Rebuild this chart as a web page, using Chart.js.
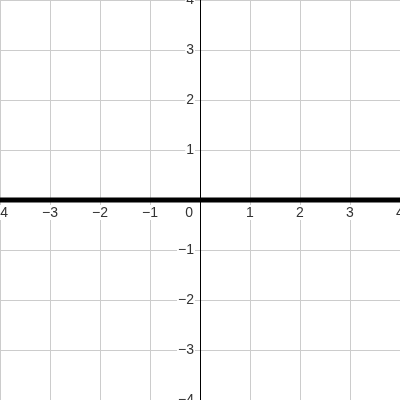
<!DOCTYPE html>
<html>
<head>
<meta charset="utf-8">
<script src="https://cdn.jsdelivr.net/npm/chart.js@4"></script>
<style>
  html, body { margin: 0; padding: 0; background: #fff; }
  #wrap { width: 400px; height: 400px; }
</style>
</head>
<body>
<div id="wrap"><canvas id="graph"></canvas></div>
<script>
// axis range and tick labels
var xTicks = [-4, -3, -2, -1, 1, 2, 3, 4];
var yTicks = [-4, -3, -2, -1, 1, 2, 3, 4];
// the plotted line y = 0
var lineX = [-4, 4];
var lineY = [0, 0];

function fmt(v) {
  return v < 0 ? "\u2212" + Math.abs(v) : String(v);
}

// draws the axes and the tick labels (white boxes behind, like the reference)
var axisLabels = {
  id: "axisLabels",
  afterDatasetsDraw: function (chart) {
    var c = chart.ctx;
    var xs = chart.scales.x, ys = chart.scales.y;
    var x0 = xs.getPixelForValue(0), y0 = ys.getPixelForValue(0);
    c.save();
    c.font = "14px 'Liberation Sans', Arial, sans-serif";
    c.textBaseline = "middle";

    xTicks.forEach(function (v) {
      var t = fmt(v), px = xs.getPixelForValue(v), w = c.measureText(t).width;
      c.fillStyle = "#fff";
      c.fillRect(px - w / 2 - 1, y0 + 5, w + 2, 15);
      c.fillStyle = "#333";
      c.textAlign = "center";
      c.fillText(t, px, y0 + 13);
    });
    yTicks.forEach(function (v) {
      var t = fmt(v), py = ys.getPixelForValue(v), w = c.measureText(t).width;
      c.fillStyle = "#fff";
      c.fillRect(x0 - 6 - w - 1, py - 8, w + 2, 16);
      c.fillStyle = "#333";
      c.textAlign = "right";
      c.fillText(t, x0 - 6, py);
    });
    c.fillStyle = "#333";
    c.textAlign = "right";
    c.fillText("0", x0 - 7, y0 + 13);
    c.restore();
  },
  beforeDatasetsDraw: function (chart) {
    var c = chart.ctx;
    var a = chart.chartArea;
    var x0 = chart.scales.x.getPixelForValue(0), y0 = chart.scales.y.getPixelForValue(0);
    c.save();
    c.strokeStyle = "#000";
    c.lineWidth = 1;
    c.beginPath();
    c.moveTo(Math.round(x0) + 0.5, a.top);
    c.lineTo(Math.round(x0) + 0.5, a.bottom);
    c.moveTo(a.left, Math.round(y0) + 0.5);
    c.lineTo(a.right, Math.round(y0) + 0.5);
    c.stroke();
    c.restore();
  }
};

var ctx = document.getElementById("graph").getContext("2d");
var chart = new Chart(ctx, {
  type: "scatter",
  data: {
    datasets: [{
      data: lineX.map(function (x, i) { return { x: x, y: lineY[i] }; }),
      showLine: true,
      borderColor: "#000",
      borderWidth: 5,
      pointRadius: 0,
      fill: false
    }]
  },
  options: {
    responsive: true,
    maintainAspectRatio: false,
    animation: false,
    layout: { padding: 0 },
    plugins: { legend: { display: false }, tooltip: { enabled: false } },
    scales: {
      x: {
        type: "linear", min: -4, max: 4,
        ticks: { display: false, stepSize: 1 },
        grid: { color: "#cccccc", drawTicks: false },
        border: { display: false }
      },
      y: {
        type: "linear", min: -4, max: 4,
        ticks: { display: false, stepSize: 1 },
        grid: { color: "#cccccc", drawTicks: false },
        border: { display: false }
      }
    }
  },
  plugins: [axisLabels]
});
</script>
</body>
</html>
